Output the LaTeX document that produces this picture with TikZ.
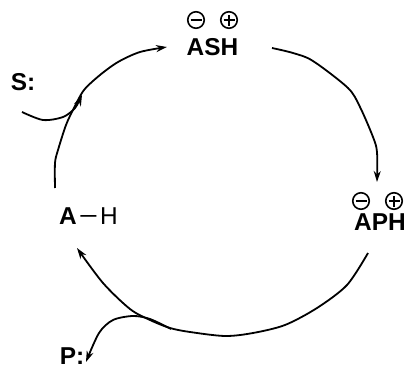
\documentclass[tikz,border=0pt]{standalone}
\usepackage{fontspec}
\setmainfont{Liberation Sans}
\usetikzlibrary{arrows.meta}
\begin{document}
\begin{tikzpicture}[x=1bp,y=-1bp,
  lbl/.style={inner sep=0pt,font=\fontsize{24.5}{26}\selectfont\bfseries},
  lblr/.style={inner sep=0pt,font=\fontsize{24.5}{26}\selectfont},
  chg/.style={circle,draw,line width=1.6bp,minimum size=16.5bp,inner sep=0pt},
  minus/.style={chg,path picture={\draw[line width=1.6bp]
     ([xshift=-5.5bp]path picture bounding box.center)--([xshift=5.5bp]path picture bounding box.center);}},
  plus/.style={chg,path picture={\draw[line width=1.6bp]
     ([xshift=-5.5bp]path picture bounding box.center)--([xshift=5.5bp]path picture bounding box.center)
     ([yshift=-5.5bp]path picture bounding box.center)--([yshift=5.5bp]path picture bounding box.center);}},
  conn/.style={line width=1.8bp,-{Stealth[length=11bp,width=7bp]}}]
\useasboundingbox (0,0) rectangle (407,379);
% labels
\node[lbl] (ash) at (212.5,47.5) {ASH};
\node[minus] (ashm) at (196,20) {};
\node[plus] (ashp) at (229,20) {};
\node[lbl] (aph) at (380,222) {APH};
\node[minus] (aphm) at (361,201) {};
\node[plus] (aphp) at (394,201) {};
\node[lblr,anchor=west] (ah) at (59,216.5) {\textbf{A}\kern2bp\scalebox{1.35}[1]{−}\kern2bp H};
\node[lbl] (s) at (23,82.5) {S:};
\node[lbl] (p) at (72,356.5) {P:};
% connector end points
\coordinate (t1) at (272,48);
\coordinate (t2) at (377,182);
\coordinate (b1) at (368,253);
\coordinate (b2) at (77,248);
\coordinate (l1) at (55,188);
\coordinate (l2) at (167,47);
\coordinate (s1) at (22,112);
\coordinate (s2) at (82,95);
\coordinate (p1) at (171,329);
\coordinate (p2) at (86,362);
% arcs
\draw[conn] plot[smooth,tension=0.5] coordinates {(t1) (293,53) (313,61) (348,88) (360,107) (373,137) (377,152) (t2)};
\draw[conn] plot[smooth,tension=0.5] coordinates {(b1) (347,285) (317,308) (285,325) (253,333) (225,336) (190,332) (170,328) (150,320) (130,309) (103,283) (b2)};
\draw[conn] plot[smooth,tension=0.5] coordinates {(l1) (55,163) (58,150) (66,125) (74,108) (84,90) (100,75) (118,62) (140,52) (l2)};
\draw[conn] plot[smooth,tension=0.5] coordinates {(s1) (43,120) (63,117) (75,108) (s2)};
\draw[conn] plot[smooth,tension=0.5] coordinates {(p1) (150,319) (133,316) (113,320) (99,333) (p2)};
\end{tikzpicture}
\end{document}
